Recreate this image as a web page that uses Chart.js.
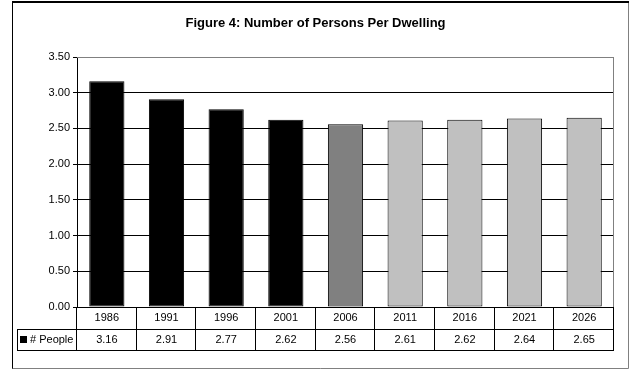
<!DOCTYPE html>
<html>
<head>
<meta charset="utf-8">
<script src="https://cdn.jsdelivr.net/npm/chart.js@4.4.1/dist/chart.umd.min.js"></script>
<style>
  html, body { margin: 0; padding: 0; background: #fff; }
  #wrap { width: 629px; height: 369px; position: relative; }
</style>
</head>
<body>
<div id="wrap"><canvas id="c" width="629" height="369"></canvas></div>
<script>
// Persons per dwelling, census years and projections
const years = ['1986', '1991', '1996', '2001', '2006', '2011', '2016', '2021', '2026'];
const people = [3.16, 2.91, 2.77, 2.62, 2.56, 2.61, 2.62, 2.64, 2.65];
const barColors = ['#000000', '#000000', '#000000', '#000000', '#808080', '#C0C0C0', '#C0C0C0', '#C0C0C0', '#C0C0C0'];
const seriesName = '# People';
const titleText = 'Figure 4: Number of Persons Per Dwelling';

const FONT = '"Liberation Sans", Arial, sans-serif';

// Outer frame of the chart
const framePlugin = {
  id: 'frame',
  beforeDraw(chart) {
    const ctx = chart.ctx;
    ctx.save();
    ctx.fillStyle = '#fff';
    ctx.fillRect(0, 0, chart.width, chart.height);
    ctx.lineWidth = 1;
    ctx.strokeStyle = '#808080';
    ctx.beginPath();
    ctx.moveTo(628.5, 2);
    ctx.lineTo(628.5, 368.5);
    ctx.lineTo(12, 368.5);
    ctx.stroke();
    ctx.strokeStyle = '#000';
    ctx.beginPath();
    ctx.moveTo(12.5, 368.5);
    ctx.lineTo(12.5, 2.5);
    ctx.stroke();
    ctx.lineWidth = 2;
    ctx.beginPath();
    ctx.moveTo(12, 2);
    ctx.lineTo(629, 2);
    ctx.stroke();
    ctx.restore();
  },
  afterDatasetsDraw(chart) {
    // gray plot-area border on the top and right edges
    const a = chart.chartArea;
    const ctx = chart.ctx;
    ctx.save();
    ctx.strokeStyle = '#808080';
    ctx.lineWidth = 1;
    ctx.beginPath();
    ctx.moveTo(a.left, a.top + 0.5);
    ctx.lineTo(a.right - 0.5, a.top + 0.5);
    ctx.lineTo(a.right - 0.5, a.bottom);
    ctx.stroke();
    ctx.restore();
  }
};

// Data table under the plot: category row and value row with legend key
const tablePlugin = {
  id: 'dataTable',
  afterDraw(chart) {
    const ctx = chart.ctx;
    const x = chart.scales.x;
    const a = chart.chartArea;
    const n = years.length;
    const colW = (a.right - a.left) / n;
    const r0 = Math.round(a.bottom);
    const r1 = r0 + 22;
    const r2 = r1 + 21;
    const keyLeft = 17;
    ctx.save();
    ctx.lineWidth = 1;
    ctx.strokeStyle = '#000';
    ctx.beginPath();
    // horizontal lines
    ctx.moveTo(a.left, r0 + 0.5); ctx.lineTo(a.right, r0 + 0.5);
    ctx.moveTo(keyLeft, r1 + 0.5); ctx.lineTo(a.right, r1 + 0.5);
    ctx.moveTo(keyLeft, r2 + 0.5); ctx.lineTo(a.right, r2 + 0.5);
    // vertical lines
    ctx.moveTo(keyLeft + 0.5, r1); ctx.lineTo(keyLeft + 0.5, r2 + 1);
    for (let i = 0; i <= n; i++) {
      const px = Math.round(a.left + i * colW) - 0.5;
      const xx = i === 0 ? a.left - 0.5 : (i === n ? a.right - 0.5 : px);
      ctx.moveTo(xx, r0); ctx.lineTo(xx, r2 + 1);
    }
    ctx.stroke();

    ctx.fillStyle = '#000';
    ctx.font = '11px ' + FONT;
    ctx.textAlign = 'center';
    ctx.textBaseline = 'middle';
    years.forEach((y, i) => {
      const cx = x.getPixelForValue(i);
      ctx.fillText(y, cx, r0 + 11);
      ctx.fillText(people[i].toFixed(2), cx, r1 + 11);
    });
    // legend key
    ctx.fillRect(20, r1 + 7, 7, 7);
    ctx.textAlign = 'left';
    ctx.fillText(seriesName, 30, r1 + 11);
    ctx.restore();
  }
};

new Chart(document.getElementById('c'), {
  type: 'bar',
  data: {
    labels: years,
    datasets: [{
      label: seriesName,
      data: people,
      backgroundColor: barColors,
      borderColor: '#000',
      borderWidth: 1,
      borderSkipped: false,
      categoryPercentage: 1.0,
      barPercentage: 0.59
    }]
  },
  options: {
    responsive: false,
    animation: false,
    devicePixelRatio: 1,
    layout: { padding: { top: 16, left: 17, right: 15, bottom: 62 } },
    plugins: {
      legend: { display: false },
      tooltip: { enabled: false },
      title: {
        display: true,
        text: titleText,
        color: '#000',
        font: { family: FONT, size: 13, weight: 'bold' },
        padding: { top: 0, bottom: 25.4 }
      }
    },
    scales: {
      x: { display: false },
      y: {
        min: 0,
        max: 3.5,
        afterFit(s) { s.width = 60; },
        ticks: {
          stepSize: 0.5,
          color: '#000',
          padding: 3,
          font: { family: FONT, size: 11 },
          callback: v => Number(v).toFixed(2)
        },
        grid: {
          color: ctx => (ctx.tick && ctx.tick.value === 3.5 ? '#808080' : '#000'),
          tickColor: '#000',
          tickLength: 4,
          lineWidth: 1
        },
        border: { color: '#000', width: 1 }
      }
    }
  },
  plugins: [framePlugin, tablePlugin]
});
</script>
</body>
</html>
